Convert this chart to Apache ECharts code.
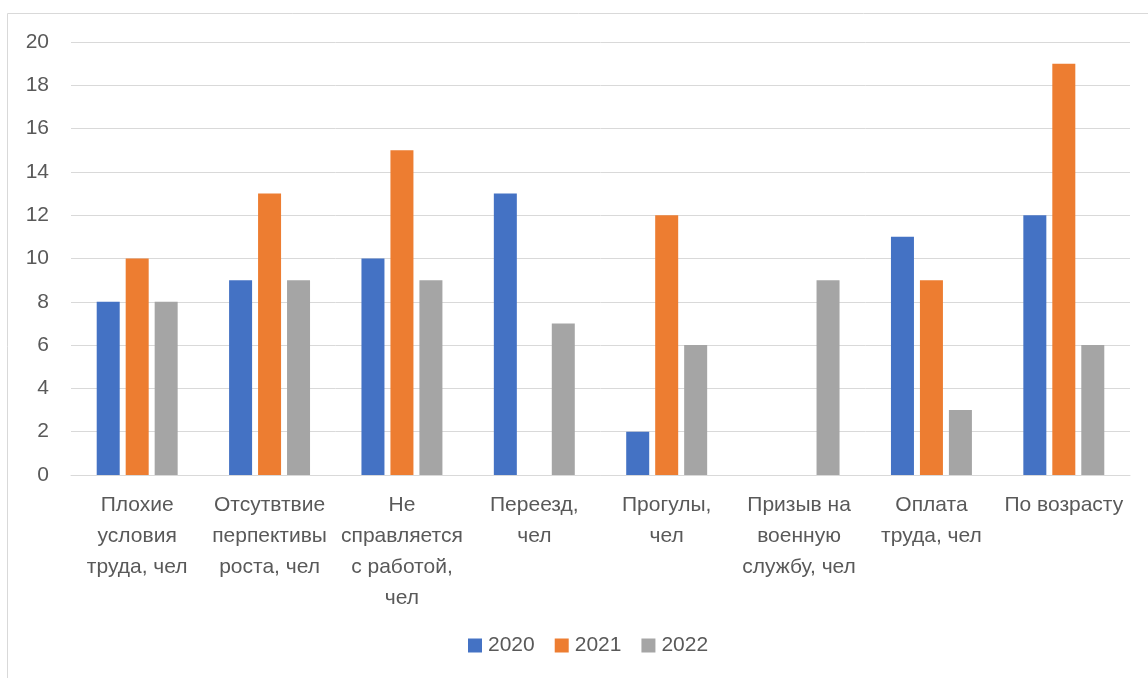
<!DOCTYPE html>
<html>
<head>
<meta charset="utf-8">
<script src="https://cdn.jsdelivr.net/npm/echarts@6/dist/echarts.min.js"></script>
<style>
  html, body { margin: 0; padding: 0; background: #fff; overflow: hidden; }
  #chart { width: 1148px; height: 678px; }
</style>
</head>
<body>
<div id="chart"></div>
<script>
const categories = [
  "Плохие\nусловия\nтруда, чел",
  "Отсутвтвие\nперпективы\nроста, чел",
  "Не\nсправляется\nс работой,\nчел",
  "Переезд,\nчел",
  "Прогулы,\nчел",
  "Призыв на\nвоенную\nслужбу, чел",
  "Оплата\nтруда, чел",
  "По возрасту"
];
const years = ["2020", "2021", "2022"];
const data2020 = [8, 9, 10, 13, 2, null, 11, 12];
const data2021 = [10, 13, 15, null, 12, null, 9, 19];
const data2022 = [8, 9, 9, 7, 6, 9, 3, 6];
const colors = ["#4472C4", "#ED7D31", "#A5A5A5"];

const chart = echarts.init(document.getElementById("chart"));
const font = "Liberation Sans";

const makeSeries = (name, values, color) => ({
  name: name,
  type: "bar",
  data: values,
  barWidth: 23,
  barGap: "26%",
  itemStyle: { color: color },
  emphasis: { disabled: true }
});

const option = {
  animation: false,
  textStyle: { fontFamily: font },
  graphic: [
    {
      type: "rect",
      shape: { x: 7.5, y: 13.5, width: 1200, height: 700 },
      style: { fill: "none", stroke: "#d9d9d9", lineWidth: 1 },
      silent: true
    }
  ],
  grid: { left: 71, right: 18, top: 42, bottom: 203 },
  legend: {
    data: years,
    bottom: 17,
    left: 463,
    icon: "rect",
    itemWidth: 14,
    itemHeight: 14,
    itemGap: 20,
    textStyle: { fontSize: 21, color: "#595959", fontFamily: font, padding: [0, 0, 0, 1] }
  },
  xAxis: {
    type: "category",
    data: categories,
    axisLine: { lineStyle: { color: "#d9d9d9" } },
    axisTick: { show: false },
    axisLabel: {
      interval: 0,
      fontSize: 21,
      lineHeight: 31,
      color: "#595959",
      margin: 15,
      fontFamily: font
    }
  },
  yAxis: {
    type: "value",
    min: 0,
    max: 20,
    interval: 2,
    axisLine: { show: false },
    axisTick: { show: false },
    splitLine: { lineStyle: { color: "#d9d9d9" } },
    axisLabel: { fontSize: 21, color: "#595959", margin: 22, fontFamily: font }
  },
  series: [
    makeSeries(years[0], data2020, colors[0]),
    makeSeries(years[1], data2021, colors[1]),
    makeSeries(years[2], data2022, colors[2])
  ]
};

chart.setOption(option);
</script>
</body>
</html>
